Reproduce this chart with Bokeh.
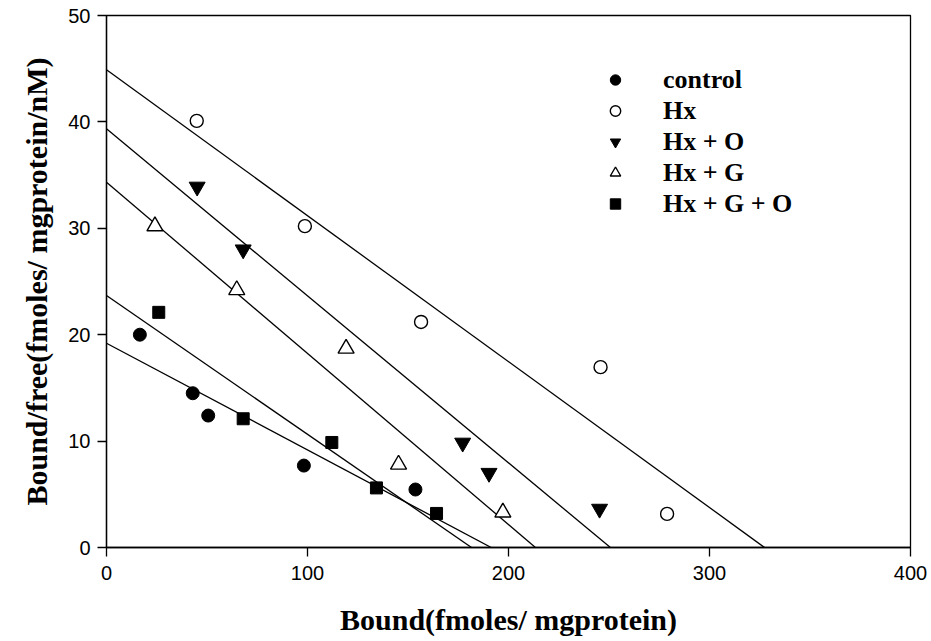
from bokeh.plotting import figure
from bokeh.models import Range1d, FixedTicker, Legend, LegendItem
from bokeh.embed import file_html
from bokeh.resources import INLINE

# Scatchard data: bound (fmoles/mg protein) vs bound/free
control_x = [16.6, 42.9, 50.6, 98.2, 153.7]
control_y = [20.0, 14.5, 12.4, 7.7, 5.45]
hx_x = [44.9, 98.7, 156.5, 245.8, 278.9]
hx_y = [40.1, 30.2, 21.2, 16.95, 3.16]
hxo_x = [45.1, 68.0, 177.2, 190.3, 245.3]
hxo_y = [33.9, 28.0, 9.84, 7.0, 3.63]
hxg_x = [24.1, 64.8, 119.2, 145.3, 197.2]
hxg_y = [30.2, 24.2, 18.7, 7.8, 3.3]
hxgo_x = [26.0, 68.0, 112.1, 134.3, 164.2]
hxgo_y = [22.1, 12.1, 9.87, 5.6, 3.2]

# Fitted lines: y-intercept and x-intercept for each group
fit_names = ["control", "Hx", "Hx + O", "Hx + G", "Hx + G + O"]
fit_y0 = [19.2, 44.9, 39.35, 34.33, 23.68]
fit_x0 = [191.4, 327.4, 250.7, 213.4, 181.6]

x_ticks = [0, 100, 200, 300, 400]
y_ticks = [0, 10, 20, 30, 40, 50]

p = figure(width=931, height=641, output_backend="svg", toolbar_location=None,
           x_range=Range1d(0, 400), y_range=Range1d(0, 50),
           min_border_left=106, min_border_right=21, min_border_top=15,
           min_border_bottom=94)
p.grid.visible = False
p.background_fill_color = "white"
p.border_fill_color = "white"
p.outline_line_color = "black"
p.outline_line_width = 1.3

# regression lines
p.segment(x0=[0] * len(fit_y0), y0=fit_y0, x1=fit_x0, y1=[0] * len(fit_x0),
          line_color="black", line_width=1.3)

r_control = p.scatter(control_x, control_y, marker="circle", size=13,
                      fill_color="black", line_color="black")
r_hx = p.scatter(hx_x, hx_y, marker="circle", size=13, fill_color="white",
                 line_color="black", line_width=1.4)
r_hxo = p.scatter(hxo_x, hxo_y, marker="inverted_triangle", size=16,
                  fill_color="black", line_color="black")
r_hxg = p.scatter(hxg_x, hxg_y, marker="triangle", size=16, fill_color="white",
                  line_color="black", line_width=1.4)
r_hxgo = p.scatter(hxgo_x, hxgo_y, marker="square", size=12,
                   fill_color="black", line_color="black")

for ax in (p.xaxis[0], p.yaxis[0]):
    ax.axis_line_color = "black"
    ax.axis_line_width = 1.3
    ax.major_tick_line_color = "black"
    ax.major_tick_line_width = 1.3
    ax.major_tick_out = 9
    ax.major_tick_in = 0
    ax.minor_tick_line_color = None
    ax.major_label_text_font = "Liberation Sans"
    ax.major_label_text_font_size = "20px"
    ax.major_label_text_color = "black"
    ax.axis_label_text_font = "Liberation Serif"
    ax.axis_label_text_font_style = "bold"
    ax.axis_label_text_font_size = "30px"
    ax.axis_label_text_color = "black"

p.xaxis.ticker = FixedTicker(ticks=x_ticks)
p.yaxis.ticker = FixedTicker(ticks=y_ticks)
p.xaxis.axis_label = "Bound(fmoles/ mgprotein)"
p.yaxis.axis_label = "Bound/free(fmoles/ mgprotein/nM)"
p.xaxis.major_label_standoff = 9
p.yaxis.major_label_standoff = 7
p.xaxis.axis_label_standoff = 20
p.yaxis.axis_label_standoff = 12

legend = Legend(
    items=[LegendItem(label=n, renderers=[r]) for n, r in
           zip(fit_names, [r_control, r_hx, r_hxo, r_hxg, r_hxgo])],
    location=(496, 328), orientation="vertical",
    label_text_font="Liberation Serif", label_text_font_style="bold",
    label_text_font_size="26px", label_text_color="black",
    glyph_width=26, glyph_height=31, label_height=31, spacing=0,
    padding=0, margin=0, label_standoff=35,
    border_line_color=None, background_fill_alpha=0)
p.add_layout(legend)

open("out.html", "w").write(file_html(p, INLINE))
